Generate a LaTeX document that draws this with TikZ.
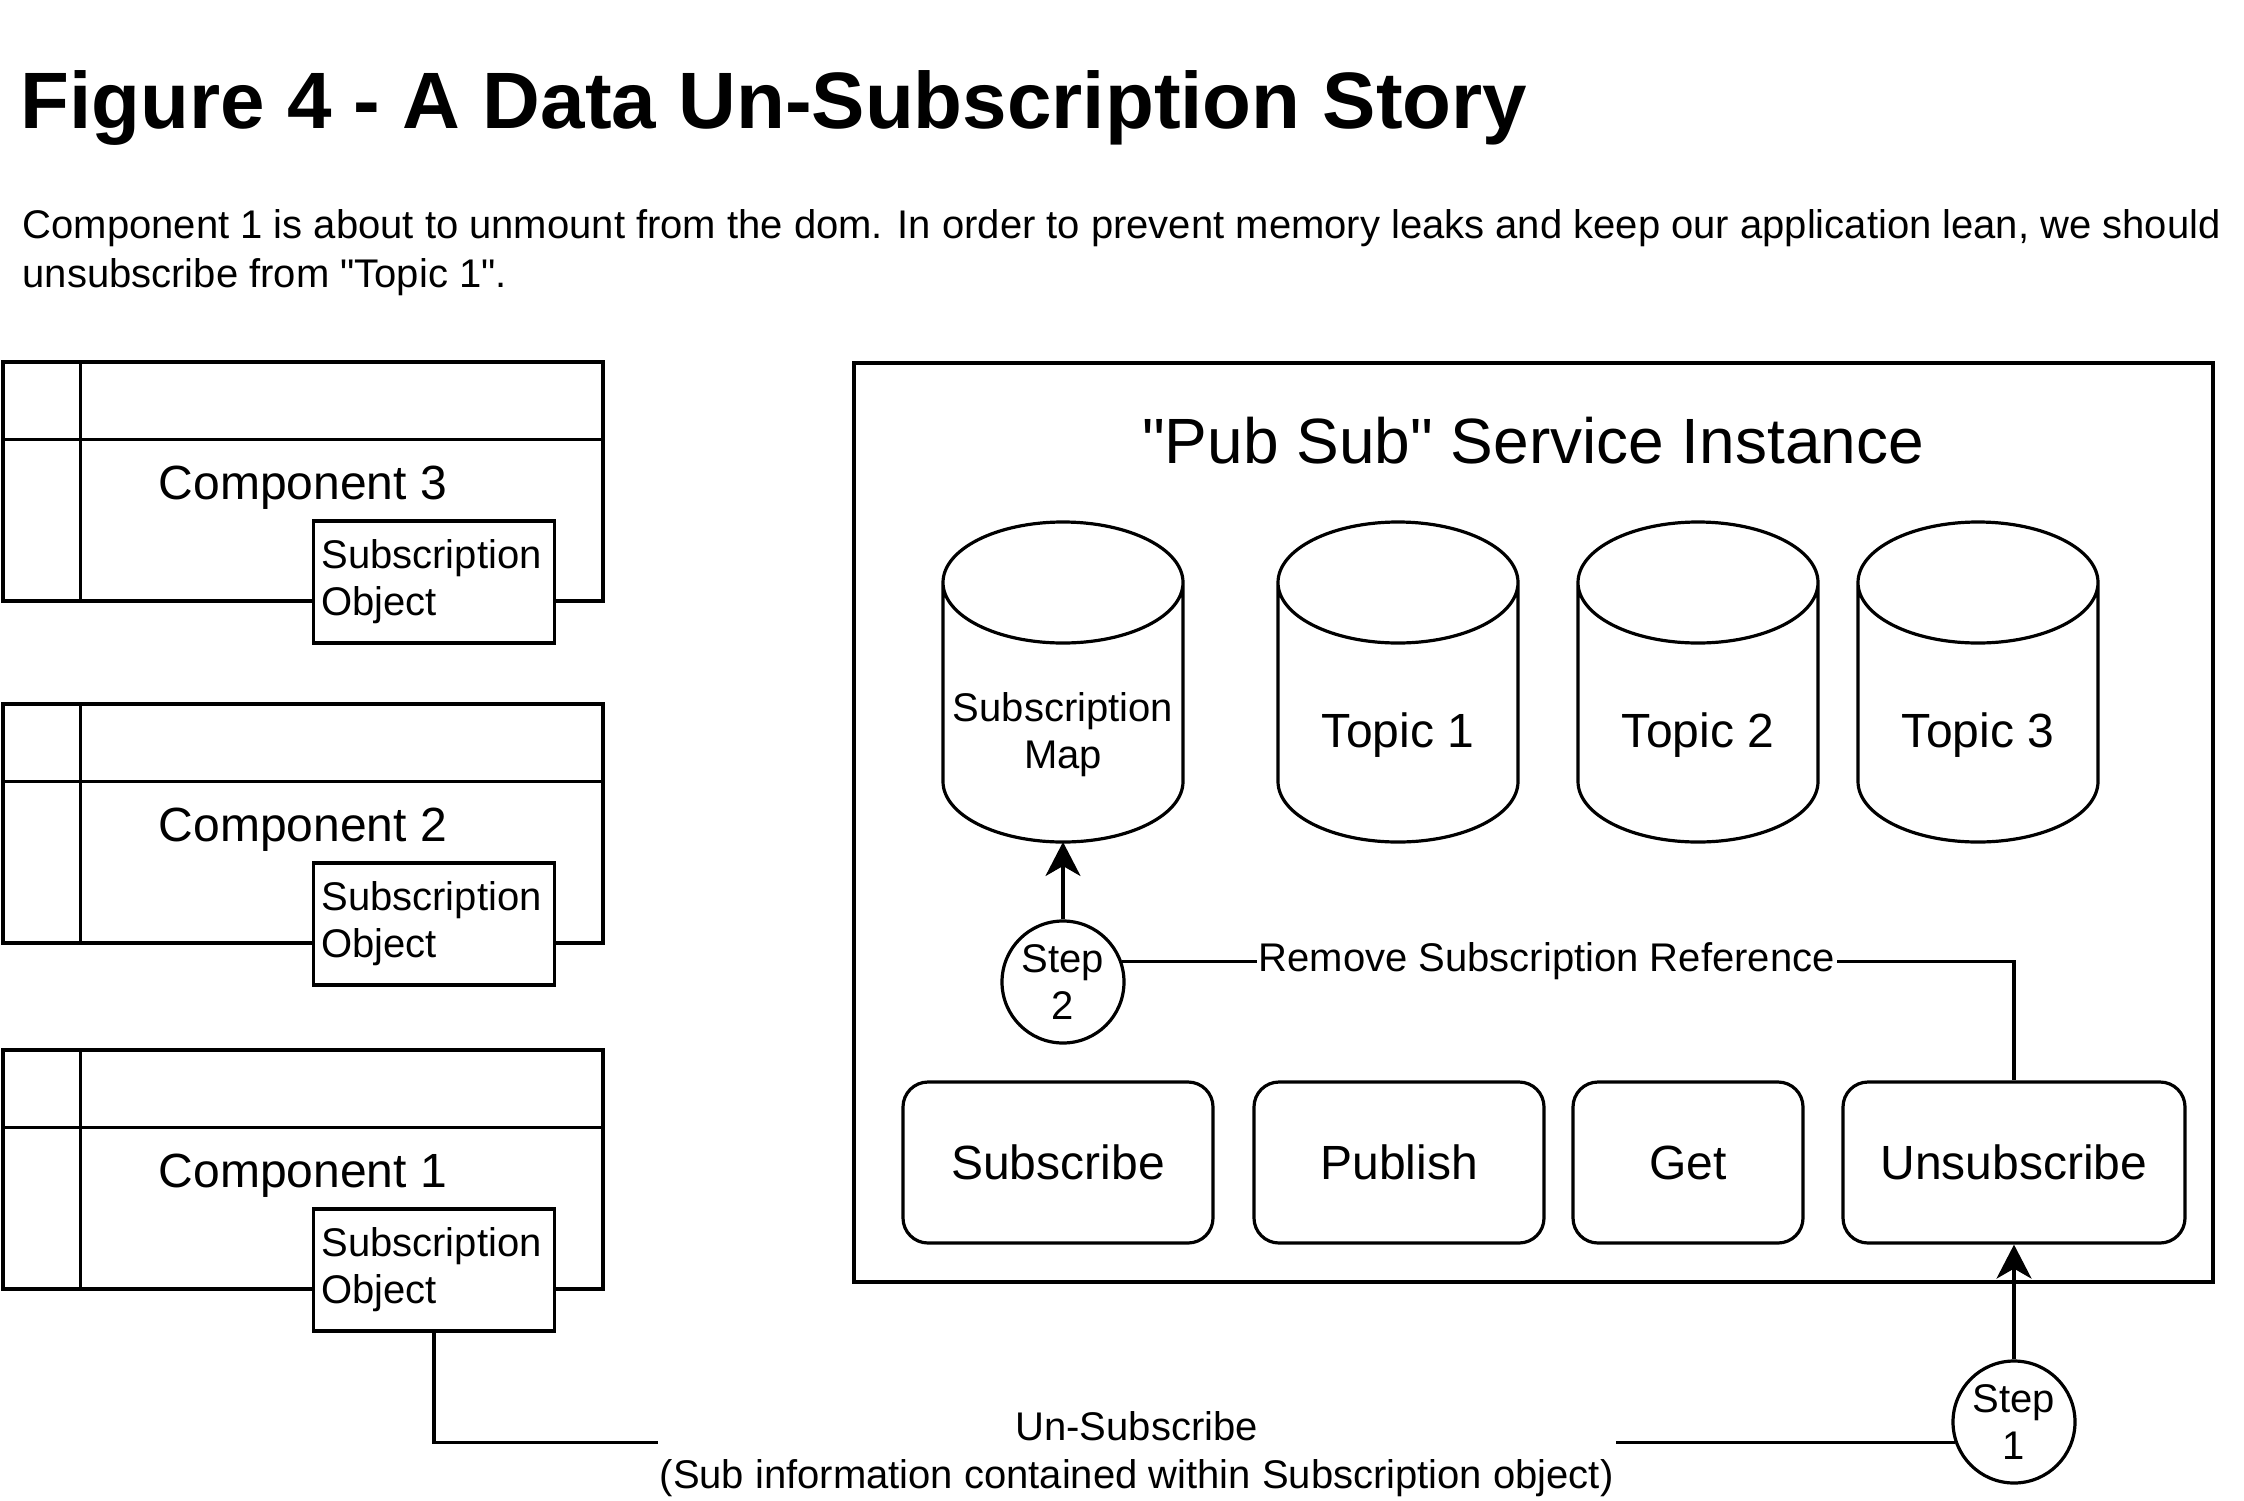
\documentclass[tikz,border=0pt]{standalone}
\usepackage{fontspec}
\setmainfont{Liberation Sans}
\usetikzlibrary{arrows.meta,calc}

\begin{document}
\begin{tikzpicture}[x=0.5pt,y=-0.5pt,line width=1.6pt,
  frame/.style={draw,minimum width=300pt,minimum height=119.5pt,inner sep=0pt,text height=23pt,text depth=5pt,font=\fontsize{24}{29}\selectfont},
  subobj/.style={draw,fill=white,minimum height=61pt,text width=112.5pt,inner xsep=4pt,inner ysep=0pt,align=left,font=\fontsize{20}{23.5}\selectfont},
  drum/.style={minimum width=120pt,minimum height=107pt,inner sep=0pt,outer sep=0pt,align=center,font=\fontsize{24}{29}\selectfont},
  stepnode/.style={draw,circle,fill=white,minimum size=61pt,inner sep=0pt,align=center,font=\fontsize{20}{23.5}\selectfont},
  button/.style={draw,rounded corners=12.5pt,minimum height=80.5pt,inner sep=0pt,font=\fontsize{24}{29}\selectfont},
  lbl/.style={fill=white,inner sep=1pt,align=center,font=\fontsize{20}{24}\selectfont},
  arr/.style={-{Stealth[length=17pt,width=17.5pt,inset=5pt]}}]

\useasboundingbox (0,0) rectangle (2244,1500);

% Draw heading and description
\node[anchor=base west,inner sep=0pt,font=\fontsize{40}{48}\selectfont\bfseries] (title) at (19,128) {Figure 4 - A Data Un-Subscription Story};
\node[anchor=base west,inner sep=0pt,align=left,font=\fontsize{20}{24.5}\selectfont] (desc) at (21,287) {Component 1 is about to unmount from the dom. In order to prevent memory leaks and keep our application lean, we should\\unsubscribe from \textquotedbl Topic 1\textquotedbl.};

% Draw component 3
\node[frame] (c3) at (303,481.5) {Component 3};
\draw ([xshift=39.5pt]c3.north west) -- ([xshift=39.5pt]c3.south west);
\draw ([yshift=-39.5pt]c3.north west) -- ([yshift=-39.5pt]c3.north east);
\node[subobj] (sub3) at (434,582) {Subscription\\Object};

% Draw component 2
\node[frame] (c2) at (303,823.5) {Component 2};
\draw ([xshift=39.5pt]c2.north west) -- ([xshift=39.5pt]c2.south west);
\draw ([yshift=-39.5pt]c2.north west) -- ([yshift=-39.5pt]c2.north east);
\node[subobj] (sub2) at (434,924) {Subscription\\Object};

% Draw component 1
\node[frame] (c1) at (303,1169.5) {Component 1};
\draw ([xshift=39.5pt]c1.north west) -- ([xshift=39.5pt]c1.south west);
\draw ([yshift=-39.5pt]c1.north west) -- ([yshift=-39.5pt]c1.north east);
\node[subobj] (sub1) at (434,1270) {Subscription\\Object};

% Draw service box with its heading
\node[draw,line width=2pt,minimum width=679.5pt,minimum height=459.5pt] (svc) at (1533.5,822.5) {};
\node[font=\fontsize{32}{38}\selectfont] (svctitle) at (1533,441) {\textquotedbl Pub Sub\textquotedbl{} Service Instance};

% Draw stores
\node[drum,font=\fontsize{20}{23.5}\selectfont] (smap) at (1063,735) {Subscription\\Map};
\node[drum] (topic1) at (1398,735) {Topic 1};
\node[drum] (topic2) at (1698,735) {Topic 2};
\node[drum] (topic3) at (1978,735) {Topic 3};
\foreach \d in {smap,topic1,topic2,topic3}
  \draw ($(\d.south west)+(0,-60.5)$) -- ++(0,-199)
    arc[start angle=180,end angle=0,x radius=60pt,y radius=30.25pt] -- ++(0,199)
    arc[start angle=0,end angle=-180,x radius=60pt,y radius=30.25pt] -- cycle
    ++(0,-199) arc[start angle=180,end angle=360,x radius=60pt,y radius=30.25pt];

% Draw service methods
\node[button,minimum width=155pt] (subscribe) at (1058,1162.5) {Subscribe};
\node[button,minimum width=145pt] (publish) at (1399,1162.5) {Publish};
\node[button,minimum width=115pt] (get) at (1688,1162.5) {Get};
\node[button,minimum width=171pt] (unsub) at (2014,1162.5) {Unsubscribe};

% Draw steps
\node[stepnode] (step2) at (1063,982) {Step\\2};
\node[stepnode] (step1) at (2014,1422) {Step\\1};

% Draw connectors
\draw[arr] (step2) -- (smap.south);
\draw[arr] (step1) -- (unsub.south);
\draw (step2.19) -| (unsub.north) node[lbl,pos=0.238] {Remove Subscription Reference};
\draw (sub1.south) |- (step1.199) node[lbl,pos=0.731,yshift=-6pt] {Un-Subscribe\\(Sub information contained within Subscription object)};
\end{tikzpicture}
\end{document}
